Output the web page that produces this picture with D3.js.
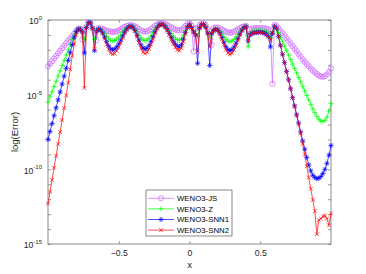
<!DOCTYPE html>
<html>
<head>
<meta charset="utf-8">
<script src="https://cdn.jsdelivr.net/npm/d3@7"></script>
<style>
  body { margin: 0; background: #fff; }
  svg { display: block; font-family: "Liberation Sans", Arial, sans-serif; }
</style>
</head>
<body>
<div id="viz"></div>
<script>
/* log10 of the error, one value per grid point (141 points on [-1, 1]) */

var gridCount = 141;

var jsLogErr = [
  -3.10, -2.93, -2.76, -2.58, -2.41, -2.23, -2.06, -1.89, -1.72, -1.55,
  -1.39, -1.23, -1.07, -0.90, -0.72, -0.58, -0.60, -1.30, -0.75, -0.45,
  -0.15, -0.20, -0.55, -0.80, -1.35, -0.55, -0.56, -0.60, -0.65, -0.70,
  -0.75, -0.79, -0.80, -0.79, -0.75, -0.69, -0.62, -0.53, -0.46, -0.40,
  -0.36, -0.35, -0.37, -0.43, -0.52, -0.61, -0.70, -0.76, -0.78, -0.76,
  -0.70, -0.61, -0.50, -0.39, -0.30, -0.24, -0.22, -0.23, -0.28, -0.34,
  -0.42, -0.50, -0.58, -0.64, -0.69, -0.70, -0.65, -0.53, -0.39, -0.27,
  -0.22, -0.35, -2.10, -0.60, -0.50, -0.35, -0.25, -0.20, -0.35, -0.60,
  -0.75, -1.67, -0.55, -0.50, -0.52, -0.57, -0.64, -0.71, -0.78, -0.83,
  -0.85, -0.83, -0.78, -0.71, -0.63, -0.54, -0.47, -0.42, -0.40, -1.00,
  -0.65, -0.58, -0.56, -0.55, -0.54, -0.54, -0.55, -0.56, -0.58, -0.62,
  -0.70, -4.27, -0.33, -0.40, -0.55, -0.72, -0.87, -1.05, -1.22, -1.40,
  -1.57, -1.75, -1.93, -2.10, -2.28, -2.45, -2.63, -2.80, -2.95, -3.10,
  -3.25, -3.38, -3.50, -3.62, -3.72, -3.78, -3.80, -3.76, -3.65, -3.48,
  -3.24
];

var zLogErr = [
  -5.50, -5.15, -4.80, -4.45, -4.10, -3.75, -3.40, -3.05, -2.70, -2.35,
  -2.00, -1.65, -1.30, -1.00, -0.75, -0.60, -0.62, -0.80, -1.30, -0.50,
  -0.18, -0.20, -0.55, -1.30, -0.70, -0.60, -0.64, -0.75, -0.91, -1.09,
  -1.25, -1.36, -1.40, -1.37, -1.28, -1.16, -1.00, -0.82, -0.67, -0.54,
  -0.45, -0.42, -0.47, -0.60, -0.79, -1.01, -1.20, -1.33, -1.38, -1.34,
  -1.22, -1.04, -0.83, -0.62, -0.45, -0.32, -0.28, -0.31, -0.41, -0.55,
  -0.72, -0.91, -1.08, -1.22, -1.32, -1.35, -1.25, -0.99, -0.69, -0.43,
  -0.33, -0.45, -0.70, -0.90, -1.10, -0.50, -0.30, -0.28, -0.45, -0.80,
  -1.20, -0.85, -0.65, -0.60, -0.64, -0.76, -0.93, -1.12, -1.29, -1.41,
  -1.45, -1.41, -1.30, -1.14, -0.95, -0.76, -0.60, -0.49, -0.45, -1.80,
  -0.95, -0.78, -0.74, -0.72, -0.70, -0.70, -0.72, -0.75, -0.80, -0.90,
  -1.20, -0.80, -0.45, -0.60, -0.85, -1.15, -1.45, -1.75, -2.05, -2.35,
  -2.65, -2.95, -3.25, -3.55, -3.85, -4.15, -4.45, -4.75, -5.05, -5.35,
  -5.65, -5.95, -6.20, -6.45, -6.65, -6.78, -6.80, -6.72, -6.50, -6.10,
  -5.60
];

var snn1LogErr = [
  -8.00, -7.47, -6.94, -6.41, -5.88, -5.35, -4.82, -4.29, -3.76, -3.23,
  -2.70, -2.17, -1.65, -1.15, -0.78, -0.60, -0.62, -0.80, -2.20, -0.50,
  -0.18, -0.20, -0.55, -2.05, -0.75, -0.60, -0.67, -0.87, -1.15, -1.45,
  -1.73, -1.93, -2.00, -1.95, -1.81, -1.60, -1.35, -1.07, -0.82, -0.61,
  -0.47, -0.42, -0.50, -0.71, -1.02, -1.35, -1.66, -1.87, -1.95, -1.88,
  -1.70, -1.43, -1.12, -0.80, -0.53, -0.35, -0.28, -0.33, -0.46, -0.66,
  -0.90, -1.18, -1.42, -1.62, -1.75, -1.80, -1.65, -1.29, -0.84, -0.48,
  -0.33, -0.50, -0.80, -1.00, -2.90, -0.55, -0.32, -0.30, -0.48, -0.90,
  -3.05, -0.90, -0.70, -0.62, -0.69, -0.89, -1.18, -1.49, -1.78, -1.98,
  -2.05, -1.99, -1.81, -1.55, -1.25, -0.95, -0.69, -0.51, -0.45, -1.40,
  -1.00, -0.90, -0.86, -0.84, -0.82, -0.82, -0.84, -0.88, -0.95, -1.10,
  -1.80, -0.90, -0.42, -0.55, -1.10, -1.70, -2.30, -2.85, -3.45, -4.00,
  -4.60, -5.20, -5.75, -6.35, -6.90, -7.50, -8.10, -8.65, -9.20, -9.70,
  -10.10, -10.40, -10.55, -10.62, -10.60, -10.48, -10.28, -10.00, -9.60, -9.05,
  -8.40
];

var snn2LogErr = [
  -12.30, -11.50, -10.70, -9.90, -9.10, -8.30, -7.50, -6.70, -5.90, -5.05,
  -4.20, -3.30, -2.40, -1.60, -1.00, -0.65, -0.62, -0.80, -4.55, -0.50,
  -0.18, -0.20, -0.55, -1.95, -0.75, -0.60, -0.69, -0.92, -1.26, -1.64,
  -1.98, -2.22, -2.30, -2.24, -2.07, -1.83, -1.53, -1.19, -0.89, -0.65,
  -0.48, -0.42, -0.51, -0.77, -1.13, -1.54, -1.90, -2.16, -2.25, -2.17,
  -1.95, -1.64, -1.27, -0.89, -0.58, -0.36, -0.28, -0.33, -0.49, -0.72,
  -1.01, -1.32, -1.61, -1.84, -2.00, -2.05, -1.88, -1.45, -0.93, -0.50,
  -0.33, -0.50, -0.80, -1.00, -2.10, -0.55, -0.32, -0.30, -0.48, -0.90,
  -1.80, -0.90, -0.70, -0.62, -0.70, -0.94, -1.28, -1.64, -1.98, -2.22,
  -2.30, -2.23, -2.02, -1.73, -1.38, -1.02, -0.73, -0.52, -0.45, -1.40,
  -1.00, -0.90, -0.86, -0.84, -0.82, -0.83, -0.85, -0.90, -0.97, -1.10,
  -1.35, -0.85, -0.42, -0.55, -1.10, -1.70, -2.30, -2.85, -3.45, -4.00,
  -4.60, -5.20, -5.80, -6.40, -7.00, -7.60, -8.30, -9.00, -9.80, -10.55,
  -11.30, -12.05, -12.80, -14.35, -13.40, -13.30, -13.15, -13.10, -13.30, -13.75,
  -12.95
];

var seriesNames = ['WENO3-JS', 'WENO3-Z', 'WENO3-SNN1', 'WENO3-SNN2'];
var seriesColors = ['#cc66ff', '#00ff00', '#0000ff', '#ff0000'];
var seriesMarkers = ['circle', 'plus', 'star', 'cross'];

var xTickVals = [-0.5, 0, 0.5];
var yLabelExps = [0, -5, -10, -15];

var W = 366, H = 274,
    plot = { left: 48, right: 331, top: 20, bottom: 244 };

// grid points, uniform on [-1, 1]
var xGrid = d3.range(gridCount).map(function(i) { return -1 + 2 * i / (gridCount - 1); });

var x = d3.scaleLinear().domain([-1, 1]).range([plot.left, plot.right]);
var y = d3.scaleLog().domain([1e-15, 1]).range([plot.bottom, plot.top]);

var svg = d3.select('#viz').append('svg')
    .attr('width', W)
    .attr('height', H);

var textColor = '#262626',
    lineColor = '#6e6e6e';

// ticks on all four sides, pointing inwards
var decades = d3.range(-15, 1).map(function(k) { return Math.pow(10, k); });

function styleAxis(g) {
  g.select('.domain').remove();
  g.selectAll('.tick line').attr('stroke', lineColor).attr('stroke-width', 0.7);
}

svg.append('g')
    .attr('transform', 'translate(' + plot.left + ',0)')
    .call(d3.axisLeft(y).tickValues(decades).tickSize(-3).tickFormat(''))
    .call(styleAxis);

svg.append('g')
    .attr('transform', 'translate(' + plot.right + ',0)')
    .call(d3.axisRight(y).tickValues(decades).tickSize(-3).tickFormat(''))
    .call(styleAxis);

svg.append('g')
    .attr('transform', 'translate(0,' + plot.top + ')')
    .call(d3.axisTop(x).tickValues(xTickVals).tickSize(-3).tickFormat(''))
    .call(styleAxis);

var xAxis = svg.append('g')
    .attr('transform', 'translate(0,' + plot.bottom + ')')
    .call(d3.axisBottom(x).tickValues(xTickVals).tickSize(-3).tickPadding(6)
      .tickFormat(function(d) { return d3.format('')(d); }))
    .call(styleAxis);

xAxis.selectAll('text')
    .attr('fill', textColor)
    .style('font-size', '8.7px')
    .style('font-family', '"Liberation Sans", Arial, sans-serif');

// y tick labels as 10^k
var yLabels = svg.append('g')
    .attr('font-size', 8.7)
    .attr('fill', textColor)
    .attr('text-anchor', 'end')
    .selectAll('text')
    .data(yLabelExps)
    .enter().append('text')
      .attr('x', plot.left - 6)
      .attr('y', function(d) { return y(Math.pow(10, d)) + 4.3; });

yLabels.append('tspan').text('10');
yLabels.append('tspan')
    .attr('dy', -4.3)
    .attr('font-size', 6)
    .text(function(d) { return d; });

// box
svg.append('rect')
    .attr('x', plot.left)
    .attr('y', plot.top)
    .attr('width', plot.right - plot.left)
    .attr('height', plot.bottom - plot.top)
    .attr('fill', 'none')
    .attr('stroke', lineColor)
    .attr('stroke-width', 0.8);

// axis titles
svg.append('text')
    .attr('x', (plot.left + plot.right) / 2)
    .attr('y', 268)
    .attr('text-anchor', 'middle')
    .attr('font-size', 9.5)
    .attr('fill', textColor)
    .text('x');

svg.append('text')
    .attr('transform', 'translate(18,' + (plot.top + plot.bottom) / 2 + ') rotate(-90)')
    .attr('text-anchor', 'middle')
    .attr('font-size', 9.5)
    .attr('fill', textColor)
    .text('log(Error)');

// marker shapes
var ms = 2.6;
var markerPath = {
  plus: 'M' + (-ms) + ',0H' + ms + 'M0,' + (-ms) + 'V' + ms,
  cross: 'M' + (-ms * 0.72) + ',' + (-ms * 0.72) + 'L' + (ms * 0.72) + ',' + (ms * 0.72) +
         'M' + (-ms * 0.72) + ',' + (ms * 0.72) + 'L' + (ms * 0.72) + ',' + (-ms * 0.72),
  star: 'M' + (-ms) + ',0H' + ms + 'M0,' + (-ms) + 'V' + ms +
        'M' + (-ms * 0.72) + ',' + (-ms * 0.72) + 'L' + (ms * 0.72) + ',' + (ms * 0.72) +
        'M' + (-ms * 0.72) + ',' + (ms * 0.72) + 'L' + (ms * 0.72) + ',' + (-ms * 0.72)
};

function drawMarker(sel, type, color) {
  if (type === 'circle') {
    sel.append('circle')
      .attr('r', ms)
      .attr('fill', 'none')
      .attr('stroke', color)
      .attr('stroke-width', 0.7);
  } else {
    sel.append('path')
      .attr('d', markerPath[type])
      .attr('fill', 'none')
      .attr('stroke', color)
      .attr('stroke-width', 0.7);
  }
}

var allSeries = [jsLogErr, zLogErr, snn1LogErr, snn2LogErr];

var line = d3.line()
    .x(function(d) { return x(d.x); })
    .y(function(d) { return y(d.err); });

allSeries.forEach(function(logs, s) {
  var pts = xGrid.map(function(xv, i) {
    return { x: xv, err: Math.pow(10, logs[i]) };
  });

  var g = svg.append('g');

  g.append('path')
      .datum(pts)
      .attr('d', line)
      .attr('fill', 'none')
      .attr('stroke', seriesColors[s])
      .attr('stroke-width', 0.7);

  g.selectAll('g.mk')
      .data(pts)
      .enter().append('g')
        .attr('class', 'mk')
        .attr('transform', function(d) {
          return 'translate(' + x(d.x) + ',' + y(d.err) + ')';
        })
        .each(function() { drawMarker(d3.select(this), seriesMarkers[s], seriesColors[s]); });
});

// legend
var legendBox = { x: 146, y: 190, w: 86, h: 46 };

var legend = svg.append('g');

legend.append('rect')
    .attr('x', legendBox.x)
    .attr('y', legendBox.y)
    .attr('width', legendBox.w)
    .attr('height', legendBox.h)
    .attr('fill', '#fff')
    .attr('stroke', lineColor)
    .attr('stroke-width', 0.8);

var entry = legend.selectAll('g.entry')
    .data(seriesNames)
    .enter().append('g')
      .attr('class', 'entry')
      .attr('transform', function(d, i) {
        return 'translate(0,' + (legendBox.y + 8.3 + i * 10.6) + ')';
      });

entry.append('line')
    .attr('x1', 148)
    .attr('x2', 174)
    .attr('stroke', function(d, i) { return seriesColors[i]; })
    .attr('stroke-width', 0.7);

entry.each(function(d, i) {
  var mk = d3.select(this).append('g').attr('transform', 'translate(161,0)');
  drawMarker(mk, seriesMarkers[i], seriesColors[i]);
});

entry.append('text')
    .attr('x', 177)
    .attr('dy', '0.35em')
    .attr('font-size', 7.8)
    .attr('fill', '#000')
    .text(function(d) { return d; });
</script>
</body>
</html>
